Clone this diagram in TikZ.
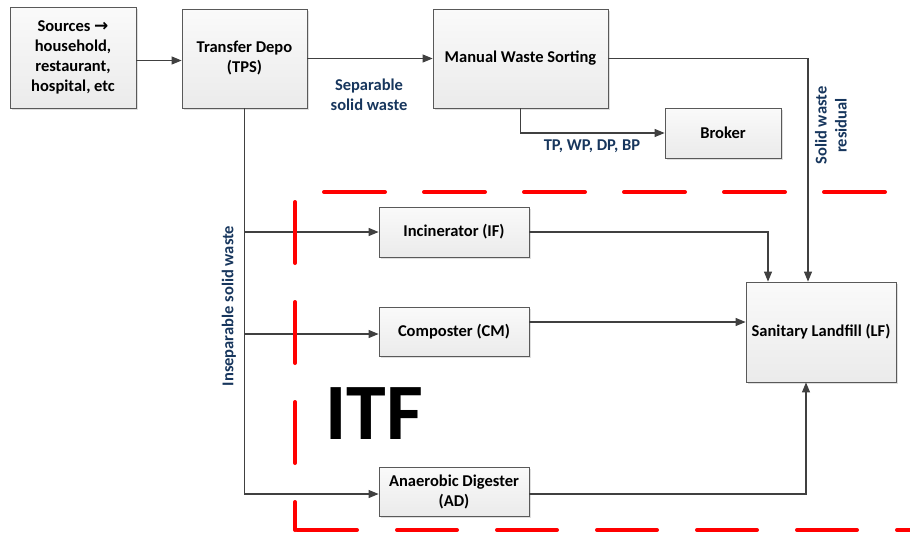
\documentclass[tikz,border=0pt]{standalone}
\usepackage{fontspec}
\setmainfont{Carlito}
\newfontfamily\symfont{DejaVu Sans}
\usetikzlibrary{arrows.meta,shadows}
\definecolor{lbl}{RGB}{23,54,93}
\definecolor{conn}{RGB}{64,64,64}
\definecolor{bord}{RGB}{89,89,89}
\tikzset{
  box/.style={draw=bord, line width=0.8pt, top color=gray!4, bottom color=gray!16,
    drop shadow={shadow xshift=1.5pt, shadow yshift=-1.5pt, opacity=0.25, fill=gray},
    inner sep=0pt, align=center, font=\fontsize{16.5}{20}\selectfont\bfseries, text=black},
  arr/.style={draw=conn, line width=1.1pt, -{Triangle[length=10pt,width=8pt]}},
  lab/.style={text=lbl, align=center, font=\fontsize{16.5}{20}\selectfont\bfseries},
  reddash/.style={draw={rgb,255:red,255;green,0;blue,0}, line width=4pt, line cap=round, dash pattern=on 61pt off 39pt},
}
\begin{document}
\begin{tikzpicture}[x=1pt,y=-1pt]
\useasboundingbox (0,0) rectangle (910,533);
% boxes
\node[box, minimum width=126pt, minimum height=101pt] (src) at (73,57.5) {Sources {\symfont\bfseries\fontsize{17}{20}\selectfont →}\\household,\\restaurant,\\hospital, etc};
\node[box, minimum width=125pt, minimum height=99pt] (tps) at (244.5,58.5) {Transfer Depo\\(TPS)};
\node[box, minimum width=175pt, minimum height=99pt] (mws) at (520.5,58.5) {Manual Waste Sorting};
\node[box, minimum width=116pt, minimum height=50pt] (brk) at (723,133) {Broker};
\node[box, minimum width=150pt, minimum height=50pt] (inc) at (454,232) {Incinerator (IF)};
\node[box, minimum width=150pt, minimum height=49pt] (cmp) at (454,332) {Composter (CM)};
\node[box, minimum width=150pt, minimum height=49pt] (ad) at (454,491.5) {Anaerobic Digester\\(AD)};
\node[box, minimum width=150pt, minimum height=100pt] (lf) at (821,332) {Sanitary Landfill (LF)};
% connectors
\draw[arr] ([yshift=-3pt]src.east) -- ([yshift=-3pt]src.east -| tps.west);
\draw[arr] (tps.east) -- (tps.east -| mws.west);
\draw[arr] (mws.south) |- (brk.west);
\draw[arr] (mws.east) -| ([xshift=-13pt]lf.north);
\draw[arr] (tps.south) |- ([yshift=-2.5pt]ad.west);
\coordinate (jinc) at (tps.south |- inc.west);
\coordinate (jcmp) at ([yshift=-2pt]tps.south |- cmp.west);
\draw[arr] (jinc) -- (inc.west);
\draw[arr] (jcmp) -- (jcmp -| cmp.west);
\draw[arr] (inc.east) -| ([xshift=-53pt]lf.north);
\draw[arr] ([yshift=10pt]cmp.east) -- ([yshift=10pt]cmp.east -| lf.west);
\draw[arr] ([yshift=-2.5pt]ad.east) -| ([xshift=-15pt]lf.south);
% labels
\node[lab] (l1) at (369,95) {Separable\\solid waste};
\node[lab] (l2) at (592,146) {TP, WP, DP, BP};
\node[lab, rotate=90] (l3) at (229,306) {Inseparable solid waste};
\node[lab, rotate=90] (l4) at (831,125.5) {Solid waste\\residual};
% ITF boundary
\draw[reddash] (324,192) -- (905,192);
\draw[reddash] (295,202) -- (295,530);
\draw[reddash, dash pattern=on 60pt off 40pt] (297,530) -- (910,530);
\node[font=\fontsize{80}{80}\selectfont\bfseries, text=black, inner sep=0pt] (itf) at (374,414) {ITF};
\end{tikzpicture}
\end{document}
